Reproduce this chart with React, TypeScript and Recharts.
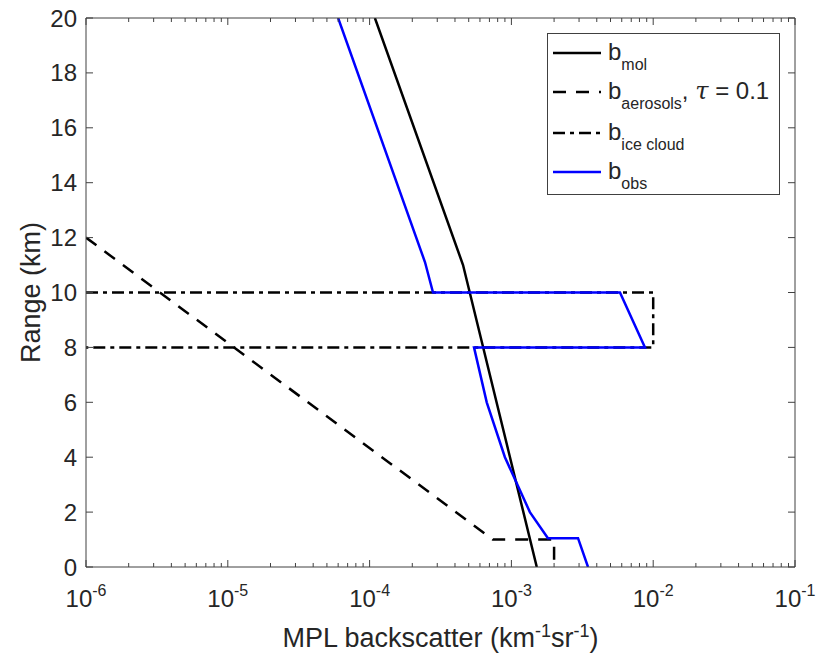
import React from 'react';
import { ComposedChart, Line, XAxis, YAxis, Legend, Label } from 'recharts';

// ---- data ----
const decadeTicks = [1e-6, 1e-5, 1e-4, 1e-3, 1e-2, 1e-1];
const decadeExponents = ['-6', '-5', '-4', '-3', '-2', '-1'];
const minorMultipliers = [2, 3, 4, 5, 6, 7, 8, 9];
const rangeTicks = [0, 2, 4, 6, 8, 10, 12, 14, 16, 18, 20];

const molValue = [1.51e-3, 4.56e-4, 1.09e-4];
const molRange = [0, 11, 20];

const aerosolValue = [1e-6, 7.4e-4, 2e-3, 2e-3];
const aerosolRange = [12, 1, 1, 0];

const iceValue = [1e-6, 1e-2, 1e-2, 1e-6];
const iceRange = [10, 10, 8, 8];

const obsValue = [6e-5, 2.46e-4, 2.8e-4, 5.83e-3, 8.75e-3, 5.45e-4, 6.7e-4, 9.0e-4, 1.35e-3, 1.81e-3, 2.95e-3, 3.47e-3];
const obsRange = [20, 11.1, 10, 10, 8, 8, 6, 4, 2, 1.05, 1.05, 0];

const legendSubs = ['mol', 'aerosols', 'ice cloud', 'obs'];

// ---- helpers ----
const toPoints = (xs: number[], ys: number[]) => xs.map((x, i) => ({ x, y: ys[i] }));
const molData = toPoints(molValue, molRange);
const aerosolData = toPoints(aerosolValue, aerosolRange);
const iceData = toPoints(iceValue, iceRange);
const obsData = toPoints(obsValue, obsRange);
const minorTicks: number[] = [];
decadeTicks.slice(0, -1).forEach((d) => minorMultipliers.forEach((m) => minorTicks.push(m * d)));

const W = 823;
const H = 653;
const FONT = '"Liberation Sans", Arial, Helvetica, sans-serif';
const TEXT = '#262626';
const AXIS = '#404040';
const DOMAIN: [number, number] = [1e-6, 1e-1];
const AER_DASH = '13 10';
const ICE_DASH = '12 5 4 5';
const TINY = 0.01;

const NoLabel = () => <g />;

const XTick = (props: any) => {
  const { x, y, payload } = props;
  const idx = decadeTicks.indexOf(payload.value);
  const exp = idx >= 0 ? decadeExponents[idx] : '';
  return (
    <text x={x} y={y + 40} textAnchor="middle" fill={TEXT} fontSize={24} fontFamily={FONT}>
      10
      <tspan dy={-11} fontSize={16}>{exp}</tspan>
    </text>
  );
};

const XLabel = (props: any) => {
  const vb = props.viewBox || { x: 86, y: 567, width: 709, height: 60 };
  const cx = vb.x + vb.width / 2;
  return (
    <text x={cx} y={vb.y + 80} textAnchor="middle" fill={TEXT} fontSize={27} fontFamily={FONT}>
      MPL backscatter (km
      <tspan dy={-10} fontSize={18}>-1</tspan>
      <tspan dy={10}>sr</tspan>
      <tspan dy={-10} fontSize={18}>-1</tspan>
      <tspan dy={10}>)</tspan>
    </text>
  );
};

const YLabel = (props: any) => {
  const vb = props.viewBox || { x: 26, y: 18, width: 60, height: 549 };
  const cx = vb.x + 14;
  const cy = vb.y + vb.height / 2;
  return (
    <text
      x={cx}
      y={cy}
      transform={`rotate(-90 ${cx} ${cy})`}
      textAnchor="middle"
      fill={TEXT}
      fontSize={27}
      fontFamily={FONT}
    >
      Range (km)
    </text>
  );
};

const legendRows = [
  { stroke: '#000000', dash: undefined },
  { stroke: '#000000', dash: AER_DASH },
  { stroke: '#000000', dash: ICE_DASH },
  { stroke: '#0000ff', dash: undefined },
];

const renderLegend = () => {
  const lineY = [20, 59, 100, 139];
  return (
    <svg width={233} height={162} style={{ display: 'block' }}>
      <rect x={0.5} y={0.5} width={232} height={161} fill="#ffffff" stroke={AXIS} strokeWidth={1} />
      {legendRows.map((row, i) => (
        <g key={i}>
          <line x1={6} x2={54} y1={lineY[i]} y2={lineY[i]} stroke={row.stroke} strokeWidth={2.5} strokeDasharray={row.dash} />
          <text x={61} y={lineY[i] + 7} fill={TEXT} fontSize={24} fontFamily={FONT}>
            b
            <tspan dy={10} fontSize={16}>{legendSubs[i]}</tspan>
            {i === 1 ? (
              <>
                <tspan dy={-10}>, </tspan>
                <tspan fontFamily="'DejaVu Serif', 'Liberation Serif', serif" fontStyle="italic">τ</tspan>
                <tspan> = 0.1</tspan>
              </>
            ) : null}
          </text>
        </g>
      ))}
    </svg>
  );
};

const tickAxisX = {
  dataKey: 'x',
  mirror: true,
  height: TINY,
  type: 'number' as const,
  scale: 'log' as const,
  domain: DOMAIN,
  allowDataOverflow: true,
  interval: 0 as const,
  tick: <NoLabel />,
  tickLine: { stroke: AXIS },
};

export default function App() {
  return (
    <div style={{ position: 'absolute', left: 0, top: 0, width: W, height: H, background: '#ffffff' }}>
      <ComposedChart width={W} height={H} margin={{ top: 18, right: 28, bottom: 26, left: 26 }}>
        {/* tick-only mirrored axes (box with inward ticks) */}
        <XAxis xAxisId="bMaj" orientation="bottom" {...tickAxisX} ticks={decadeTicks} tickSize={7} axisLine={false} />
        <XAxis xAxisId="bMin" orientation="bottom" {...tickAxisX} ticks={minorTicks} tickSize={4} axisLine={false} />
        <XAxis xAxisId="tMaj" orientation="top" {...tickAxisX} ticks={decadeTicks} tickSize={7} axisLine={{ stroke: AXIS }} />
        <XAxis xAxisId="tMin" orientation="top" {...tickAxisX} ticks={minorTicks} tickSize={4} axisLine={false} />
        <YAxis yAxisId="lTick" orientation="left" mirror width={TINY} type="number" domain={[0, 20]} allowDataOverflow ticks={rangeTicks} interval={0} tick={<NoLabel />} tickSize={7} axisLine={false} tickLine={{ stroke: AXIS }} />
        <YAxis yAxisId="rTick" orientation="right" mirror width={TINY} type="number" domain={[0, 20]} allowDataOverflow ticks={rangeTicks} interval={0} tick={<NoLabel />} tickSize={7} axisLine={{ stroke: AXIS }} tickLine={{ stroke: AXIS }} />

        {/* labelled axes */}
        <XAxis
          xAxisId="main"
          dataKey="x"
          orientation="bottom"
          height={60}
          type="number"
          scale="log"
          domain={DOMAIN}
          allowDataOverflow
          ticks={decadeTicks}
          interval={0}
          tick={<XTick />}
          tickSize={0}
          tickMargin={0}
          tickLine={false}
          axisLine={{ stroke: AXIS }}
        >
          <Label content={<XLabel />} />
        </XAxis>
        <YAxis
          yAxisId="main"
          dataKey="y"
          orientation="left"
          width={60}
          type="number"
          domain={[0, 20]}
          allowDataOverflow
          ticks={rangeTicks}
          interval={0}
          tick={{ fill: TEXT, fontSize: 24, fontFamily: FONT }}
          tickSize={0}
          tickMargin={9}
          tickLine={false}
          axisLine={{ stroke: AXIS }}
        >
          <Label content={<YLabel />} />
        </YAxis>

        <Line xAxisId="main" yAxisId="main" data={molData} dataKey="y" type="linear" dot={false} activeDot={false} stroke="#000000" strokeWidth={2.5} isAnimationActive={false} legendType="none" />
        <Line xAxisId="main" yAxisId="main" data={aerosolData} dataKey="y" type="linear" dot={false} activeDot={false} stroke="#000000" strokeWidth={2.5} strokeDasharray={AER_DASH} isAnimationActive={false} legendType="none" />
        <Line xAxisId="main" yAxisId="main" data={iceData} dataKey="y" type="linear" dot={false} activeDot={false} stroke="#000000" strokeWidth={2.5} strokeDasharray={ICE_DASH} isAnimationActive={false} legendType="none" />
        <Line xAxisId="main" yAxisId="main" data={obsData} dataKey="y" type="linear" dot={false} activeDot={false} stroke="#0000ff" strokeWidth={2.5} isAnimationActive={false} legendType="none" />

        <Legend
          layout="vertical"
          align="center"
          verticalAlign="middle"
          content={renderLegend}
          wrapperStyle={{ position: 'absolute', left: 547, top: 33, width: 233, height: 162 }}
        />
      </ComposedChart>
    </div>
  );
}
